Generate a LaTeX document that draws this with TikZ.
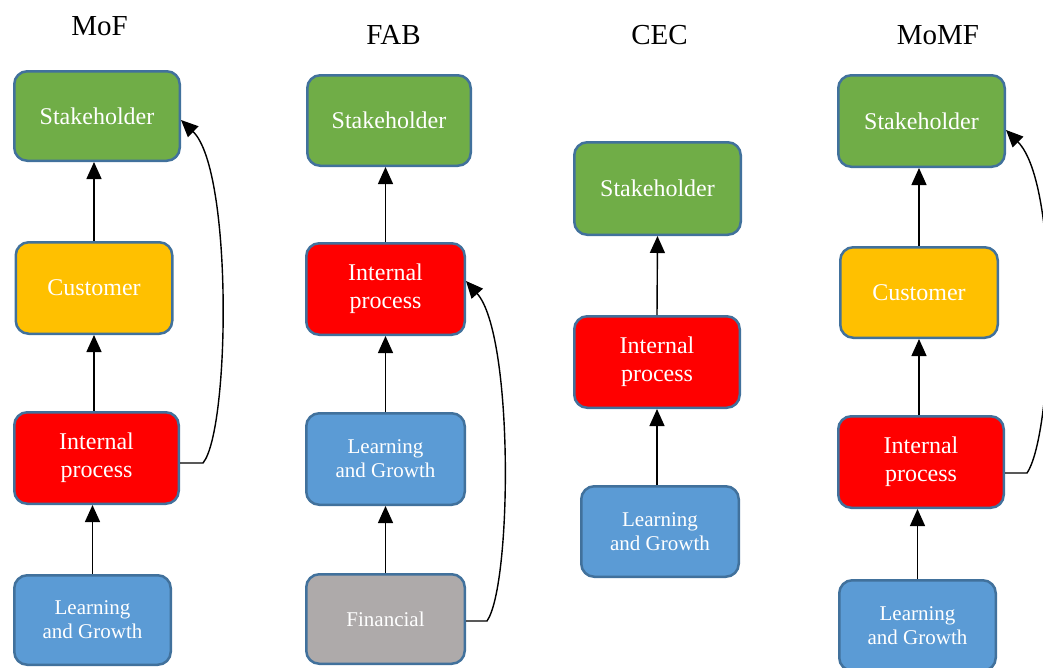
\documentclass[tikz,border=0pt]{standalone}
\usepackage{fontspec}
\setmainfont{Liberation Serif}
\usetikzlibrary{arrows.meta}

\definecolor{bsborder}{HTML}{41719C}
\definecolor{bsgreen}{HTML}{70AD47}
\definecolor{bsyellow}{HTML}{FFC000}
\definecolor{bsred}{HTML}{FF0000}
\definecolor{bsblue}{HTML}{5B9BD5}
\definecolor{bsgray}{HTML}{AEAAAA}

\tikzset{
  card/.style={draw=bsborder, line width=2.5pt, rounded corners=13pt, text=white, align=center, inner sep=0pt},
  dims/.style 2 args={minimum width=#1pt, minimum height=#2pt},
  bigtext/.style={font=\fontsize{24}{28}\selectfont},
  smalltext/.style={font=\fontsize{21}{24}\selectfont},
  stake/.style={card, bigtext, fill=bsgreen},
  cust/.style={card, bigtext, fill=bsyellow},
  intern/.style={card, bigtext, fill=bsred},
  learn/.style={card, smalltext, fill=bsblue},
  finan/.style={card, smalltext, fill=bsgray},
  link/.style={-{Triangle[length=17pt,width=15pt]}, line width=1.4pt},
  title/.style={font=\fontsize{29}{32}\selectfont, anchor=base}
}

\begin{document}
\begin{tikzpicture}[x=1pt,y=-1pt]
\clip (0,0) rectangle (1043,667);

% MoF
\node[title] (t1) at (99.5,35) {MoF};
\node[stake, dims={165.5}{89.5}] (sh1) at (97,116) {Stakeholder};
\node[cust, dims={156.5}{91.5}] (cu1) at (94,288) {Customer};
\node[intern, dims={164.5}{91.5}] (ip1) at (96.5,458) {Internal\\process};
\node[learn, dims={156.5}{89.5}] (lg1) at (92.5,620) {Learning\\and Growth};
\draw[link] (lg1.north) -- (lg1.north |- ip1.south);
\draw[link] (ip1.north -| cu1.north) -- (cu1.south);
\draw[link] (cu1.north) -- (cu1.north |- sh1.south);
\draw[link] ([yshift=-5pt]ip1.east) -- ++(23,0) .. controls +(27,-33) and +(52,50) .. ([yshift=-4pt]sh1.east);

% FAB
\node[title] (t2) at (393.5,44) {FAB};
\node[stake, dims={163.5}{90.5}] (sh2) at (389,120.5) {Stakeholder};
\node[intern, dims={158.5}{91.5}] (ip2) at (385.5,289) {Internal\\process};
\node[learn, dims={158.5}{91.5}] (lg2) at (385.5,459) {Learning\\and Growth};
\node[finan, dims={158.5}{89.5}] (fi2) at (385.5,619) {Financial};
\draw[link] (fi2.north) -- (lg2.south);
\draw[link] (lg2.north) -- (ip2.south);
\draw[link] (ip2.north) -- (ip2.north |- sh2.south);
\draw[link] ([yshift=-2pt]fi2.east) -- ++(21,0) .. controls +(25,-36) and +(48,54) .. ([yshift=8pt]ip2.east);

% CEC
\node[title] (t3) at (659.5,44) {CEC};
\node[stake, dims={166.5}{92.5}] (sh3) at (657.5,188.5) {Stakeholder};
\node[intern, dims={165.5}{91.5}] (ip3) at (657,362) {Internal\\process};
\node[learn, dims={157.5}{90.5}] (lg3) at (660,531.5) {Learning\\and Growth};
\draw[link] (ip3.south |- lg3.north) -- (ip3.south);
\draw[link] (ip3.north) -- (sh3.south);

% MoMF
\node[title] (t4) at (938,44) {MoMF};
\node[stake, dims={166.5}{91.5}] (sh4) at (921.5,121) {Stakeholder};
\node[cust, dims={157.5}{90.5}] (cu4) at (919,292.5) {Customer};
\node[intern, dims={165.5}{91.5}] (ip4) at (921,462) {Internal\\process};
\node[learn, dims={156.5}{90.5}] (lg4) at (917.5,625.5) {Learning\\and Growth};
\draw[link] (lg4.north) -- (lg4.north |- ip4.south);
\draw[link] (ip4.north -| cu4.north) -- (cu4.south);
\draw[link] (cu4.north) -- (cu4.north |- sh4.south);
\draw[link] ([yshift=-11pt]ip4.east) -- ++(22,0) .. controls +(27,-40) and +(55,55) .. ([yshift=-9pt]sh4.east);
\end{tikzpicture}
\end{document}
